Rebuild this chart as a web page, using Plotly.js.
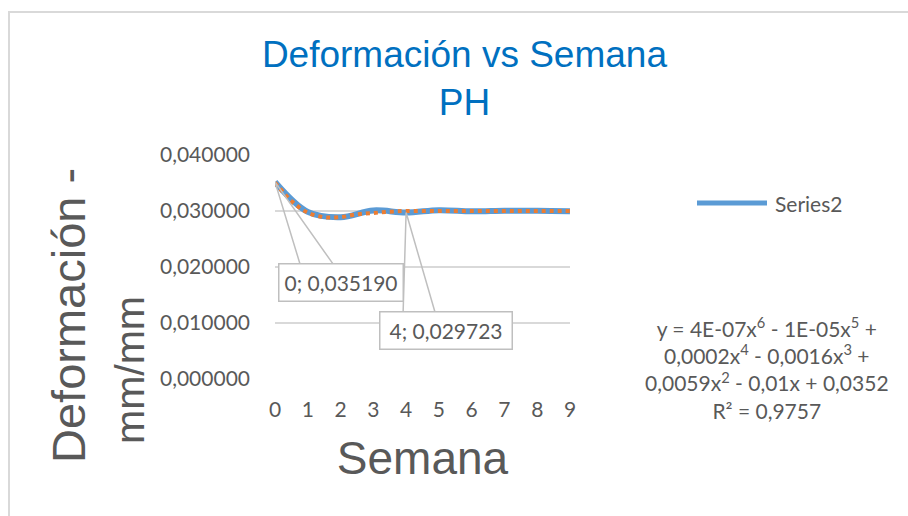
<!DOCTYPE html>
<html>
<head>
<meta charset="utf-8">
<script src="https://cdn.plot.ly/plotly-3.0.1.min.js"></script>
<style>
  html, body { margin: 0; padding: 0; background: #fff; }
  #wrap { position: relative; width: 908px; height: 516px; overflow: hidden; }
  #chart { position: absolute; left: 0; top: 0; width: 908px; height: 516px; }
  #frame { position: absolute; left: 8px; top: 11px; width: 1000px; height: 1000px;
           border-top: 2px solid #d9d9d9; border-left: 2px solid #d9d9d9; pointer-events: none; }
</style>
</head>
<body>
<div id="wrap"><div id="chart"></div><div id="frame"></div></div>
<script>
// ---- data ----
const semanas = [0, 1, 2, 3, 4, 5, 6, 7, 8, 9];
const deformacion = [0.035190, 0.02985, 0.02890, 0.03010, 0.029723, 0.03015, 0.02995, 0.03005, 0.03005, 0.02995];
const trendX = [0, 0.5, 1, 1.5, 2, 2.5, 3, 3.5, 4, 5, 6, 7, 8, 9];
const trendY = [0.03510, 0.03180, 0.02970, 0.02890, 0.02890, 0.02940, 0.02964, 0.02988, 0.03000, 0.03000, 0.03000, 0.03000, 0.03000, 0.03000];
const yTicks = [0, 0.01, 0.02, 0.03, 0.04];
const labeledIdx = [0, 4];
const seriesName = 'Series2';
const titleText = 'Deformación vs Semana<br>PH';
const yTitle1 = 'Deformación -';
const yTitle2 = 'mm/mm';
const xTitle = 'Semana';
const equationText = 'y = 4E-07x<sup>6</sup> - 1E-05x<sup>5</sup> +<br>0,0002x<sup>4</sup> - 0,0016x<sup>3</sup> +<br>0,0059x<sup>2</sup> - 0,01x + 0,0352<br>R² = 0,9757';

const GRAY = '#595959';
const BODY = 'Lato, "Open Sans", sans-serif';
const HEAD = '"Liberation Sans", Arial, sans-serif';

const fmt = v => v.toFixed(6).replace('.', ',');

// label callout geometry (pixels relative to the labelled point)
const callouts = [
  { box: [65.5, -101], w: 123, leg: [[25, -82], [58, -82]] },
  { box: [39.5, -118.4], w: 131, leg: [[-3, -100], [29, -100]] }
];

const traces = [
  {
    x: semanas, y: deformacion, type: 'scatter', mode: 'lines', name: seriesName,
    line: { color: '#5B9BD5', width: 6, shape: 'spline', smoothing: 1 },
    hoverinfo: 'x+y'
  },
  {
    x: trendX, y: trendY, type: 'scatter', mode: 'lines', name: 'Polinómica (' + seriesName + ')',
    line: { color: '#ED7D31', width: 4, dash: 'dot', shape: 'spline', smoothing: 1 },
    showlegend: false, hoverinfo: 'skip'
  }
];

const annotations = [
  { xref: 'paper', yref: 'paper', x: -0.7017, y: 0.2857, text: yTitle1, textangle: -90,
    showarrow: false, font: { family: HEAD, size: 47, color: GRAY }, xanchor: 'center', yanchor: 'middle' },
  { xref: 'paper', yref: 'paper', x: -0.4915, y: 0.0402, text: yTitle2, textangle: -90,
    showarrow: false, font: { family: HEAD, size: 41, color: GRAY }, xanchor: 'center', yanchor: 'middle' },
  { xref: 'paper', yref: 'paper', x: 1.6881, y: 0.7857, text: seriesName, showarrow: false,
    xanchor: 'left', yanchor: 'middle', font: { family: BODY, size: 21, color: GRAY } },
  { xref: 'paper', yref: 'paper', x: 1.6678, y: 0.0469, text: equationText, showarrow: false,
    xanchor: 'center', yanchor: 'middle', align: 'center', font: { family: BODY, size: 21, color: GRAY } }
];

const shapes = [
  { type: 'line', xref: 'paper', yref: 'paper', x0: 1.4305, x1: 1.6678, y0: 0.7857, y1: 0.7857,
    line: { color: '#5B9BD5', width: 5 } }
];

labeledIdx.forEach((idx, k) => {
  const c = callouts[k];
  annotations.push({
    xref: 'x', yref: 'y', x: semanas[idx], y: deformacion[idx],
    text: semanas[idx] + '; ' + fmt(deformacion[idx]),
    showarrow: false, xshift: c.box[0], yshift: c.box[1],
    width: c.w, height: 36, borderpad: 0, bgcolor: '#ffffff',
    bordercolor: '#bfbfbf', borderwidth: 1.5, align: 'center', valign: 'middle',
    font: { family: BODY, size: 21, color: GRAY }
  });
  shapes.push({
    type: 'path', xref: 'x', yref: 'y', xsizemode: 'pixel', ysizemode: 'pixel',
    xanchor: semanas[idx], yanchor: deformacion[idx],
    path: 'M0,0L' + c.leg[0][0] + ',' + c.leg[0][1] + 'M0,0L' + c.leg[1][0] + ',' + c.leg[1][1],
    line: { color: '#bfbfbf', width: 1.5 }, layer: 'above'
  });
});

const layout = {
  width: 908, height: 516,
  margin: { l: 275, r: 338, t: 155, b: 137 },
  paper_bgcolor: '#ffffff', plot_bgcolor: '#ffffff',
  separators: ',.',
  showlegend: false,
  title: {
    text: titleText, x: 0.5115, xref: 'container', xanchor: 'center',
    y: 0.870, yref: 'container', yanchor: 'top',
    font: { family: HEAD, size: 37, color: '#0070C0' }
  },
  xaxis: {
    range: [0, 9], tickvals: semanas, ticktext: semanas.map(String),
    showgrid: false, zeroline: false, showline: false, ticks: '',
    ticklabelstandoff: 16,
    tickfont: { family: BODY, size: 21, color: GRAY },
    title: { text: xTitle, standoff: 21, font: { family: HEAD, size: 46, color: GRAY } },
    fixedrange: true
  },
  yaxis: {
    range: [0, 0.04], tickvals: yTicks, tickformat: '.6f',
    showgrid: true, gridcolor: '#d9d9d9', gridwidth: 1.3,
    zeroline: false, showline: false, ticks: '',
    ticklabelstandoff: 24,
    tickfont: { family: BODY, size: 21, color: GRAY },
    fixedrange: true
  },
  annotations: annotations,
  shapes: shapes
};

Plotly.newPlot('chart', traces, layout, { displayModeBar: false, staticPlot: true });
</script>
</body>
</html>
